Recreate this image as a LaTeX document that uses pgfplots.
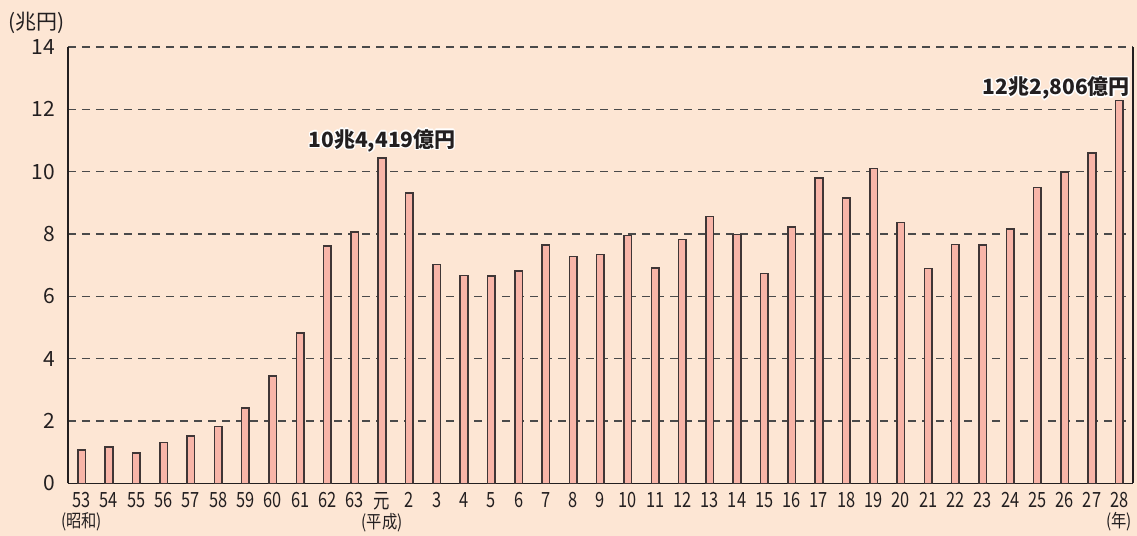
\documentclass[border=0pt]{standalone}
\usepackage{fontspec}
\setmainfont{Noto Sans CJK JP}
\usepackage{graphicx}
\usepackage{pgfplots}
\pgfplotsset{compat=1.18}
\definecolor{bg}{HTML}{FDE6D4}
\definecolor{barfill}{HTML}{F8B5A8}
\definecolor{barline}{HTML}{3F3636}
\definecolor{gridc}{HTML}{4A4A4A}
\definecolor{txt}{HTML}{231F20}
\newcommand{\halo}[1]{\leavevmode
  \rlap{\color{white}\kern-0.7pt#1}%
  \rlap{\color{white}\kern0.7pt#1}%
  \rlap{\color{white}\raisebox{0.7pt}{#1}}%
  \rlap{\color{white}\raisebox{-0.7pt}{#1}}%
  \rlap{\color{white}\kern-0.5pt\raisebox{0.5pt}{#1}}%
  \rlap{\color{white}\kern0.5pt\raisebox{0.5pt}{#1}}%
  \rlap{\color{white}\kern-0.5pt\raisebox{-0.5pt}{#1}}%
  \rlap{\color{white}\kern0.5pt\raisebox{-0.5pt}{#1}}%
  {\color{txt}#1}}
\newcommand{\xl}[1]{\scalebox{0.78}[1]{\fontsize{10.5}{10.5}\selectfont #1}}
\newcommand{\era}[1]{\scalebox{0.85}[1]{\fontsize{9}{9}\selectfont(#1)}}
\pgfplotstableread{
idx val
0 1.07
1 1.18
2 0.98
3 1.32
4 1.52
5 1.83
6 2.43
7 3.45
8 4.83
9 7.62
10 8.07
11 10.44
12 9.32
13 7.02
14 6.67
15 6.65
16 6.82
17 7.64
18 7.28
19 7.34
20 7.96
21 6.92
22 7.83
23 8.56
24 7.99
25 6.74
26 8.22
27 9.79
28 9.15
29 10.10
30 8.37
31 6.90
32 7.67
33 7.65
34 8.17
35 9.49
36 10.00
37 10.60
38 12.28
}\datatable
\begin{document}
\begin{tikzpicture}
\path[use as bounding box, fill=bg] (-34pt,-26.25pt) rectangle (534.5pt,241.75pt);
\begin{axis}[
  at={(0,0)}, anchor=south west,
  width=532.5pt, height=218.25pt, scale only axis,
  xmin=-0.5, xmax=38.5, ymin=0, ymax=14,
  axis x line*=bottom, axis y line*=box,
  axis line style={draw=txt, line width=0.7pt},
  ytick={0,2,...,14}, ytick pos=left,
  major tick length=0pt,
  ymajorgrids, major grid style={draw=gridc, line width=0.7pt, dash pattern=on 4pt off 3pt},
  xtick=data,
  xticklabels={{\xl{53}\\\era{昭和}},\xl{54},\xl{55},\xl{56},\xl{57},\xl{58},\xl{59},\xl{60},\xl{61},\xl{62},\xl{63},{\xl{元}\\\era{平成}},\xl{2},\xl{3},\xl{4},\xl{5},\xl{6},\xl{7},\xl{8},\xl{9},\xl{10},\xl{11},\xl{12},\xl{13},\xl{14},\xl{15},\xl{16},\xl{17},\xl{18},\xl{19},\xl{20},\xl{21},\xl{22},\xl{23},\xl{24},\xl{25},\xl{26},\xl{27},{\xl{28}\\\era{年}}},
  xticklabel style={align=center, anchor=north, font=\fontsize{10.5}{10}\selectfont, text=txt, yshift=-1pt},
  yticklabel style={font=\fontsize{10.5}{10.5}\selectfont, text=txt, xshift=-3pt},
  /pgf/number format/assume math mode=true,
  clip=false,
]
\addplot[ybar, bar width=3.8pt, fill=barfill, draw=barline, line width=0.8pt] table[x=idx, y=val] {\datatable};
\node[font=\bfseries\fontsize{10.5}{10.5}\selectfont, inner sep=0pt] at (axis cs:11,11.0) {\halo{10兆4,419億円}};
\node[font=\bfseries\fontsize{10.5}{10.5}\selectfont, inner sep=0pt, anchor=east] at (axis cs:38.4,12.68) {\halo{12兆2,806億円}};
\end{axis}
\node[font=\fontsize{10.5}{10.5}\selectfont, text=txt, inner sep=0pt] at (-15.5pt,230.25pt) {(兆円)};
\end{tikzpicture}
\end{document}
